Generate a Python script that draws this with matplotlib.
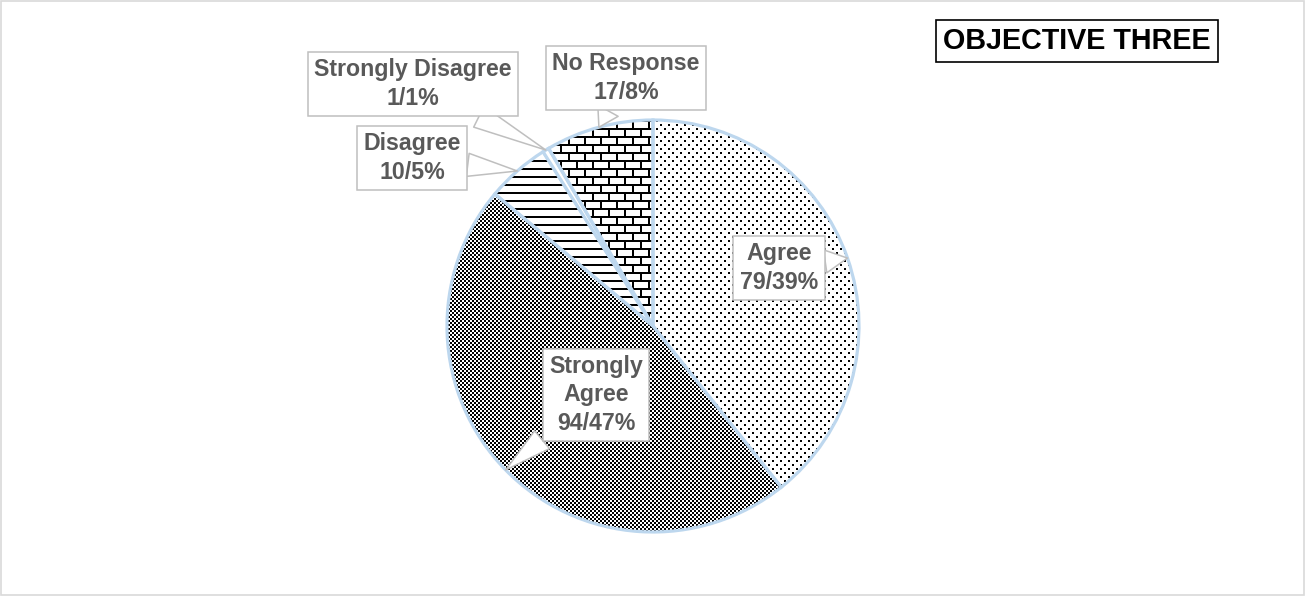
import numpy as np
import matplotlib
matplotlib.use("Agg")
import matplotlib.pyplot as plt
from matplotlib.patches import Rectangle

plt.rcParams['font.family'] = ['Liberation Sans', 'DejaVu Sans']

# data
categories = ["Agree", "Strongly\nAgree", "Disagree", "Strongly Disagree", "No Response"]
counts = [79, 94, 10, 1, 17]
percents = [39, 47, 5, 1, 8]
textures = ["dots", "checker", "hlines", None, "brick"]
title = "OBJECTIVE THREE"

# layout: callout box centres in figure pixels (from bottom-left)
label_px = [(779, 328), (596, 201), (412, 438), (413, 512), (626, 518)]

W, H = 1305, 596
EDGE = "#bdd7ee"
LBL = "#595959"
BOXEDGE = "#bfbfbf"

fig = plt.figure(figsize=(W / 100, H / 100), dpi=100)
R = 206                       # pie radius in px
cx, cy = 653, H - 326         # pie centre in px
ax = fig.add_axes([0, 0, 1, 1])

face = ["white" if t is None else "none" for t in textures]
wedges, _ = ax.pie(counts, startangle=90, counterclock=False, radius=1,
                   colors=face,
                   wedgeprops=dict(edgecolor=EDGE, linewidth=2.3))
ax.set_xlim(-cx / R, (W - cx) / R)
ax.set_ylim(-cy / R, (H - cy) / R)
ax.axis("off")

# fill textures (Excel-style pattern fills), clipped to each wedge
yy, xx = np.mgrid[0:H, 0:W]


def texture(kind):
    if kind == "dots":
        ink = ((yy % 8 < 2) & (xx % 8 < 2)) | (((yy + 4) % 8 < 2) & ((xx + 4) % 8 < 2))
    elif kind == "checker":
        ink = ((yy // 2 + xx // 2) % 2) == 0
    elif kind == "hlines":
        ink = yy % 8 < 2
    else:  # brick
        row = yy // 8
        ink = (yy % 8 < 2) | (((xx + (row % 2) * 8) % 16) < 2)
    img = np.where(ink, 0.0, 1.0)
    return np.dstack([img, img, img])


for w, kind in zip(wedges, textures):
    if kind is None:
        continue
    im = fig.figimage(texture(kind), xo=0, yo=0, origin="upper", zorder=-1)
    im.set_clip_path(w)

# callout labels
for w, name, n, p, (tx, ty) in zip(wedges, categories, counts, percents, label_px):
    ang = np.deg2rad((w.theta1 + w.theta2) / 2)
    ax.annotate(f"{name}\n{n}/{p}%", xy=(np.cos(ang), np.sin(ang)),
                xytext=(tx, ty), textcoords="figure pixels",
                ha="center", va="center", fontsize=16.7, fontweight="bold",
                color=LBL, linespacing=1.3,
                bbox=dict(boxstyle="square,pad=0.28", fc="white", ec=BOXEDGE, lw=1.1),
                arrowprops=dict(arrowstyle="wedge,tail_width=1.0", fc="white",
                                ec=BOXEDGE, lw=1.1, shrinkA=0, shrinkB=0))

fig.text(1077 / W, 1 - 41 / H, title, ha="center", va="center",
         fontsize=20.7, fontweight="bold", color="black",
         bbox=dict(boxstyle="square,pad=0.25", fc="white", ec="black", lw=1.2))

fig.add_artist(Rectangle((0.5 / W, 1.5 / H), 1 - 1.5 / W, 1 - 2.5 / H,
                         transform=fig.transFigure, fill=False,
                         ec="#d9d9d9", lw=1.2))

fig.savefig("out.png", dpi=100)
